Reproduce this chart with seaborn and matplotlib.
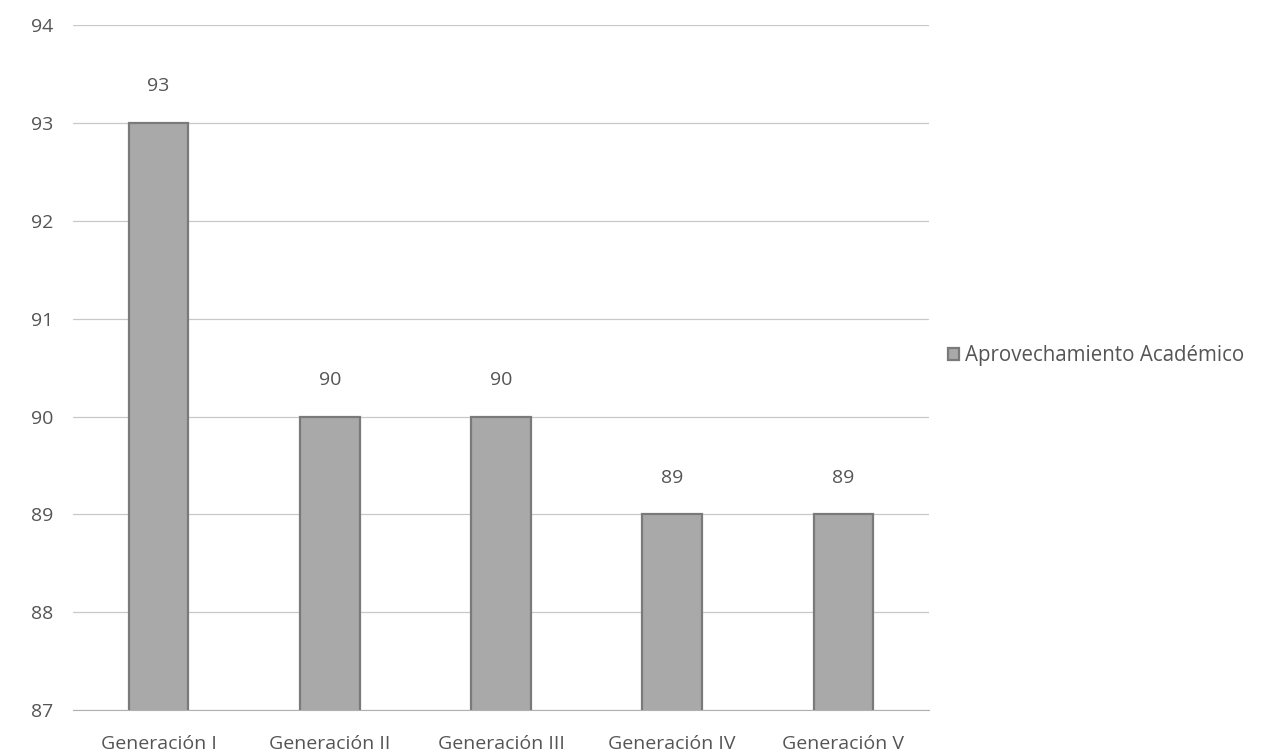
import matplotlib
matplotlib.use('Agg')
import matplotlib.pyplot as plt
import seaborn as sns
import pandas as pd

## Data
generaciones = ['Generación I', 'Generación II', 'Generación III', 'Generación IV', 'Generación V']
aprovechamiento = [93, 90, 90, 89, 89]
serie = 'Aprovechamiento Académico'

df = pd.DataFrame({'Generacion': generaciones, 'Valor': aprovechamiento, 'Serie': serie})

sns.set_style('white')
plt.rcParams['font.family'] = ['Open Sans', 'DejaVu Sans']

fig = plt.figure(figsize=(12.78, 7.54), dpi=100)
ax = fig.add_axes([0.057, 0.058, 0.670, 0.909])

sns.barplot(data=df, x='Generacion', y='Valor', hue='Serie', palette=['#a9a9a9'],
            width=0.35, edgecolor='#7a7a7a', linewidth=1.6, ax=ax, zorder=3)

ax.set_ylim(87, 94)
ax.set_yticks(range(87, 95))
ax.grid(axis='y', color='#c8c8c8', linewidth=0.9, zorder=0)
for s in ['top', 'right', 'left']:
    ax.spines[s].set_visible(False)
ax.spines['bottom'].set_color('#b0b0b0')
ax.set_xlabel('')
ax.set_ylabel('')
ax.tick_params(axis='both', labelsize=14, colors='#555555', length=0)
ax.tick_params(axis='y', pad=14)
ax.tick_params(axis='x', pad=18)

for c in ax.containers:
    ax.bar_label(c, padding=20, fontsize=14, color='#555555')

leg = ax.legend(loc='center left', bbox_to_anchor=(1.0, 0.517), frameon=False,
                fontsize=14.8, handlelength=0.55, handleheight=0.55, handletextpad=0.3)
for t in leg.get_texts():
    t.set_color('#555555')

fig.savefig('out.png', dpi=100)
